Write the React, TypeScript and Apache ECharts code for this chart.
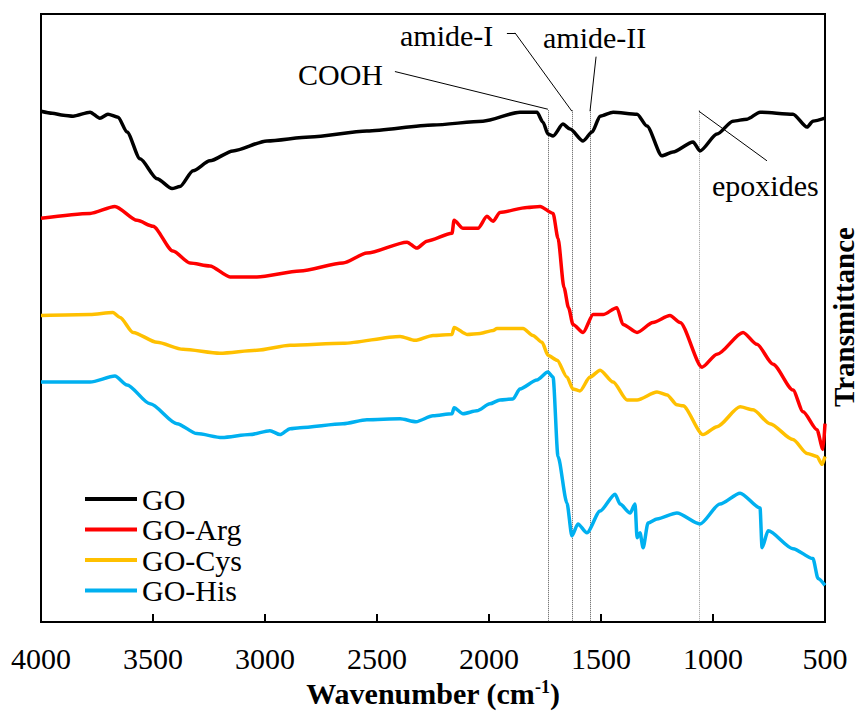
import React, { useEffect, useRef } from "react";
import * as echarts from "echarts";

// Wavenumber (cm-1), relative transmittance (a.u., offset spectra)
const goData: [number, number][] = [
  [4000, 515], [3950, 513], [3900, 511], [3857, 510], [3781, 514], [3737, 508], [3701, 512],
  [3656, 509], [3616, 494], [3558, 467], [3482, 447], [3415, 437], [3380, 439], [3321, 455],
  [3246, 465], [3143, 475], [2991, 485], [2799, 489], [2545, 495], [2250, 501], [2027, 505],
  [1862, 514], [1786, 514], [1759, 504], [1737, 492], [1714, 490], [1670, 502], [1638, 497],
  [1580, 485], [1540, 494], [1504, 510], [1446, 514], [1339, 512], [1295, 500], [1228, 470],
  [1179, 474], [1089, 484], [1058, 475], [982, 492], [911, 505], [848, 507], [790, 514],
  [643, 512], [580, 499], [554, 505], [500, 508],
];

const argData: [number, number][] = [
  [4000, 407], [3781, 412], [3670, 419], [3571, 405], [3500, 399], [3411, 374], [3335, 362],
  [3246, 359], [3156, 348], [3036, 348], [2844, 354], [2652, 362], [2545, 372], [2366, 383],
  [2322, 377], [2277, 384], [2165, 392], [2156, 405], [2116, 397], [2049, 397], [2009, 409],
  [1982, 404], [1951, 413], [1830, 418], [1772, 419], [1714, 412], [1692, 387], [1665, 337],
  [1645, 317], [1625, 300], [1580, 292], [1535, 310], [1491, 310], [1429, 317], [1402, 300],
  [1339, 292], [1268, 302], [1192, 309], [1147, 302], [1049, 257], [982, 270], [866, 292],
  [804, 280], [732, 260], [643, 234], [598, 212], [536, 194], [509, 174], [500, 200],
];

const cysData: [number, number][] = [
  [4000, 309], [3781, 310], [3679, 312], [3647, 307], [3589, 292], [3482, 282], [3366, 275],
  [3201, 271], [3036, 274], [2888, 279], [2652, 281], [2397, 288], [2330, 284], [2250, 289],
  [2165, 290], [2156, 297], [2098, 290], [2040, 291], [1982, 294], [1964, 296], [1848, 296],
  [1804, 289], [1763, 282], [1737, 269], [1696, 264], [1652, 247], [1625, 235], [1594, 233],
  [1549, 247], [1504, 254], [1446, 242], [1384, 224], [1339, 224], [1250, 232], [1205, 229],
  [1161, 219], [1134, 218], [1045, 189], [982, 197], [879, 217], [821, 214], [746, 200],
  [643, 184], [580, 170], [536, 167], [513, 159], [500, 167],
];

const hisData: [number, number][] = [
  [4000, 242], [3781, 242], [3670, 248], [3616, 239], [3513, 220], [3393, 200], [3304, 190],
  [3192, 186], [3067, 189], [2978, 193], [2933, 189], [2888, 195], [2844, 196], [2652, 200],
  [2545, 204], [2397, 205], [2326, 202], [2250, 208], [2165, 210], [2156, 216], [2116, 210],
  [2054, 213], [1996, 220], [1951, 224], [1893, 225], [1862, 235], [1786, 244], [1737, 252],
  [1714, 247], [1692, 167], [1652, 120], [1630, 87], [1603, 99], [1563, 90], [1504, 112],
  [1437, 129], [1415, 119], [1370, 110], [1348, 119], [1339, 85], [1326, 90], [1312, 75],
  [1290, 100], [1250, 104], [1161, 110], [1058, 99], [969, 119], [879, 130], [790, 115],
  [781, 75], [754, 92], [643, 74], [554, 64], [531, 44], [500, 37],
];

const seriesNames = ["GO", "GO-Arg", "GO-Cys", "GO-His"];
const seriesColors = ["#000000", "#FF0000", "#FFC000", "#00B0F0"];

// peak guide positions (cm-1)
const peakLines = [1737, 1630, 1549, 1063];
const peakLineTop = 516;

// annotation leader segments: [wn1, v1, wn2, v2]
const leaderSegments: [number, number, number, number][] = [
  [2420, 555, 1737, 517],
  [1920, 594, 1884, 594],
  [1884, 594, 1630, 515],
  [1522, 570, 1549, 515],
  [1063, 515, 759, 465],
];

const FONT = "'Liberation Serif', 'Times New Roman', serif";

export default function App() {
  const ref = useRef<HTMLDivElement>(null);

  useEffect(() => {
    if (!ref.current) return;
    const chart = echarts.init(ref.current, null, { renderer: "svg" });

    const markData: any[] = [];
    peakLines.forEach((wn, i) => {
      markData.push([
        {
          coord: [wn, peakLineTop],
          lineStyle: { type: "dotted", color: i === 3 ? "#9a9a9a" : "#555555", width: 1 },
        },
        { coord: [wn, 0] },
      ]);
    });
    leaderSegments.forEach((s) => {
      markData.push([
        { coord: [s[0], s[1]], lineStyle: { type: "solid", color: "#000", width: 1 } },
        { coord: [s[2], s[3]] },
      ]);
    });

    const datasets = [goData, argData, cysData, hisData];

    const option: any = {
      animation: false,
      backgroundColor: "#ffffff",
      textStyle: { fontFamily: FONT },
      grid: {
        left: 41,
        right: 35,
        top: 14,
        bottom: 86,
        show: true,
        borderColor: "#000",
        borderWidth: 2,
        backgroundColor: "transparent",
      },
      legend: {
        orient: "vertical",
        left: 80,
        top: 479,
        icon: "rect",
        itemWidth: 52,
        itemHeight: 4,
        itemGap: 0.5,
        textStyle: { fontFamily: FONT, fontSize: 30, color: "#000", lineHeight: 30 },
        data: seriesNames,
      },
      xAxis: {
        type: "value",
        inverse: true,
        min: 500,
        max: 4000,
        interval: 500,
        axisLine: { show: false },
        axisTick: { show: true, inside: true, length: 8, lineStyle: { color: "#000", width: 2 } },
        splitLine: { show: false },
        axisLabel: {
          fontFamily: FONT,
          fontSize: 30,
          color: "#000",
          margin: 21,
          formatter: (v: number) => String(v),
        },
        name: "Wavenumber (cm{sup|-1})",
        nameLocation: "middle",
        nameGap: 54,
        nameTextStyle: {
          fontFamily: FONT,
          fontSize: 30,
          fontWeight: "bold",
          color: "#000",
          lineHeight: 30,
          rich: {
            sup: {
              fontFamily: FONT,
              fontSize: 18,
              fontWeight: "bold",
              color: "#000",
              lineHeight: 14,
              verticalAlign: "top",
            },
          },
        },
      },
      yAxis: {
        type: "value",
        min: 0,
        max: 613,
        axisLine: { show: false },
        axisTick: { show: false },
        axisLabel: { show: false },
        splitLine: { show: false },
      },
      graphic: [
        {
          type: "text",
          x: 844,
          y: 317,
          rotation: Math.PI / 2,
          style: {
            text: "Transmittance",
            fontFamily: FONT,
            fontSize: 29,
            fontWeight: "bold",
            fill: "#000",
            align: "center",
            verticalAlign: "middle",
          },
        },
        {
          type: "text",
          x: 298,
          y: 74,
          style: { text: "COOH", fontFamily: FONT, fontSize: 30, fill: "#000", align: "left", verticalAlign: "middle" },
        },
        {
          type: "text",
          x: 400,
          y: 35,
          style: { text: "amide-I", fontFamily: FONT, fontSize: 30, fill: "#000", align: "left", verticalAlign: "middle" },
        },
        {
          type: "text",
          x: 543,
          y: 37,
          style: { text: "amide-II", fontFamily: FONT, fontSize: 30, fill: "#000", align: "left", verticalAlign: "middle" },
        },
        {
          type: "text",
          x: 712,
          y: 185,
          style: { text: "epoxides", fontFamily: FONT, fontSize: 30, fill: "#000", align: "left", verticalAlign: "middle" },
        },
      ],
      series: datasets.map((d, i) => ({
        name: seriesNames[i],
        type: "line",
        data: d,
        showSymbol: false,
        symbol: "none",
        smooth: 0.25,
        smoothMonotone: "x",
        color: seriesColors[i],
        lineStyle: { color: seriesColors[i], width: 3.5 },
        z: 3,
        ...(i === 0
          ? {
              markLine: {
                silent: true,
                symbol: ["none", "none"],
                label: { show: false },
                emphasis: { disabled: true },
                z: 2,
                data: markData,
              },
            }
          : {}),
      })),
    };

    chart.setOption(option);
    return () => chart.dispose();
  }, []);

  return (
    <div
      ref={ref}
      style={{ position: "fixed", left: 0, top: 0, width: 860, height: 713, background: "#fff" }}
    />
  );
}
